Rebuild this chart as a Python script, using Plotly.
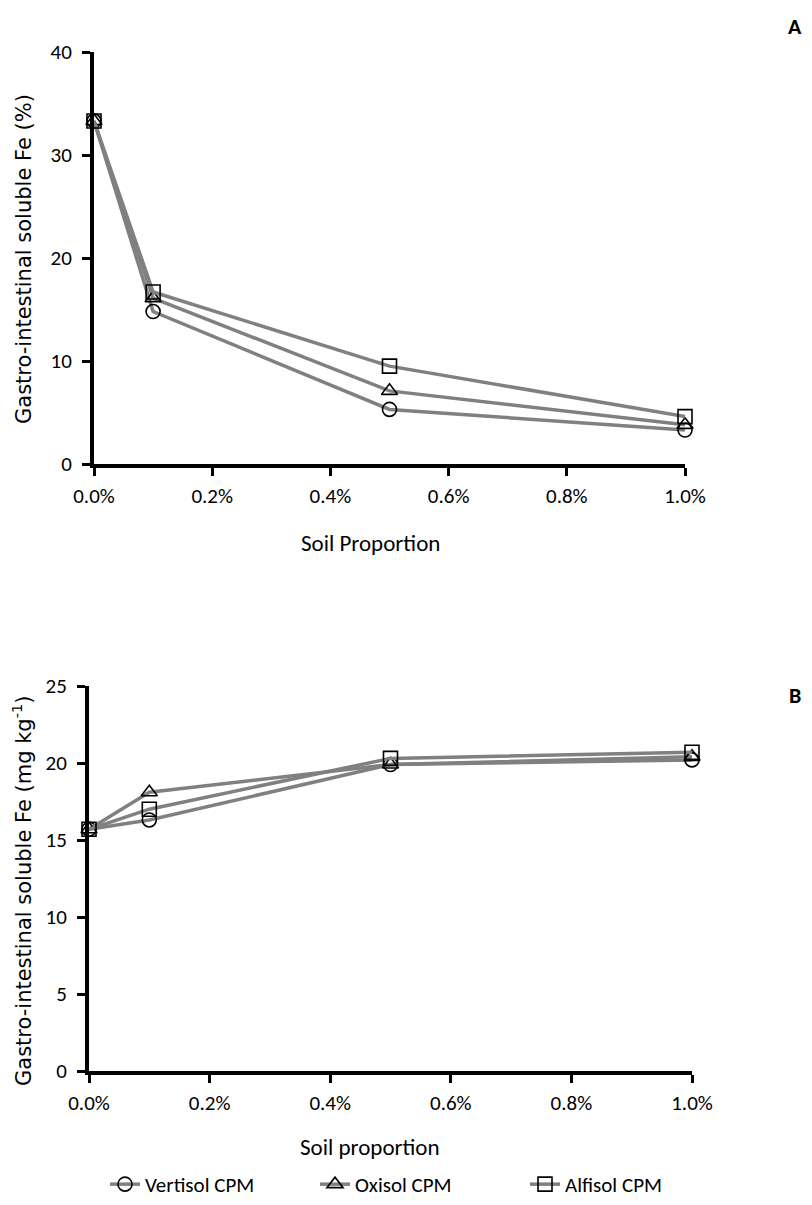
import plotly.graph_objects as go

soil_prop = [0.0, 0.001, 0.005, 0.01]
series_names = ["Vertisol CPM", "Oxisol CPM", "Alfisol CPM"]
symbols = ["circle-open", "triangle-up-open", "square-open"]

# Panel A: Gastro-intestinal soluble Fe (%)
a_vertisol = [33.3, 14.8, 5.3, 3.3]
a_oxisol = [33.3, 16.1, 7.1, 3.8]
a_alfisol = [33.3, 16.7, 9.5, 4.6]

# Panel B: Gastro-intestinal soluble Fe (mg kg-1)
b_vertisol = [15.7, 16.3, 19.9, 20.2]
b_oxisol = [15.7, 18.1, 19.9, 20.4]
b_alfisol = [15.7, 17.0, 20.3, 20.7]

x_ticks = [0.0, 0.002, 0.004, 0.006, 0.008, 0.01]

NARROW = "Carlito, Lato, sans-serif"
WIDE = "DejaVu Sans, Verdana, sans-serif"
LINE = "#808080"

W, H = 796, 1189   # page body has an 8px margin; reference coords = fig coords + 8


def px(x):
    return x / W


def py(y):
    return 1 - y / H


fig = go.Figure()

for name, sym, ya, yb in zip(series_names, symbols,
                             [a_vertisol, a_oxisol, a_alfisol],
                             [b_vertisol, b_oxisol, b_alfisol]):
    fig.add_trace(go.Scatter(
        x=soil_prop, y=ya, name=name, mode="lines+markers",
        line=dict(color=LINE, width=3.5),
        marker=dict(symbol=sym, size=14, color="black", line=dict(width=1.6, color="black")),
        cliponaxis=False, showlegend=False, xaxis="x", yaxis="y"))
    fig.add_trace(go.Scatter(
        x=soil_prop, y=yb, name=name, mode="lines+markers",
        line=dict(color=LINE, width=3.5),
        marker=dict(symbol=sym, size=14, color="black", line=dict(width=1.6, color="black")),
        cliponaxis=False, showlegend=True, xaxis="x2", yaxis="y2"))

axis_common = dict(
    showgrid=False, zeroline=False, showline=True, linecolor="black", linewidth=4,
    ticks="outside", ticklen=8, tickwidth=2.5, tickcolor="black", automargin=False,
    tickfont=dict(family=NARROW, size=21, color="black"),
)

fig.update_layout(
    width=W, height=H,
    margin=dict(l=0, r=0, t=0, b=0, autoexpand=False),
    paper_bgcolor="white", plot_bgcolor="white",
    xaxis=dict(domain=[px(86), px(677)], range=[0, 0.01], tickvals=x_ticks,
               tickformat=".1%", anchor="y", ticklabelstandoff=2, **axis_common),
    yaxis=dict(domain=[py(456), py(44)], range=[0, 40], tickvals=[0, 10, 20, 30, 40],
               anchor="x", ticklabelstandoff=6, **axis_common),
    xaxis2=dict(domain=[px(81), px(684)], range=[0, 0.01], tickvals=x_ticks,
                tickformat=".1%", anchor="y2", ticklabelstandoff=2, **axis_common),
    yaxis2=dict(domain=[py(1063), py(678)], range=[0, 25], tickvals=[0, 5, 10, 15, 20, 25],
                anchor="x2", ticklabelstandoff=6, **axis_common),
    legend=dict(orientation="h", x=px(412), xanchor="center", y=-8/H, yanchor="bottom",
                font=dict(family=NARROW, size=21, color="black"),
                entrywidth=165, entrywidthmode="pixels",
                bgcolor="rgba(0,0,0,0)"),
    showlegend=True,
)

annotations = [
    dict(text="Soil Proportion", x=px(362), y=py(535), font=dict(family=NARROW, size=23)),
    dict(text="Soil proportion", x=px(362), y=py(1139), font=dict(family=NARROW, size=23)),
    dict(text="Gastro-intestinal soluble Fe (%)", x=px(16), y=py(251), textangle=-90,
         font=dict(family=WIDE, size=21)),
    dict(text="Gastro-intestinal soluble Fe (mg kg<sup>-1</sup>)", x=px(14), y=py(883),
         textangle=-90, font=dict(family=WIDE, size=21)),
    dict(text="<b>A</b>", x=1.0, y=py(19), xanchor="right", font=dict(family=NARROW, size=22)),
    dict(text="<b>B</b>", x=px(787), y=py(687), font=dict(family=NARROW, size=22)),
]
for a in annotations:
    a.setdefault("xanchor", "center")
    a.update(xref="paper", yref="paper", showarrow=False, yanchor="middle")
    a["font"]["color"] = "black"
fig.update_layout(annotations=annotations)

fig.write_html("out.html")
